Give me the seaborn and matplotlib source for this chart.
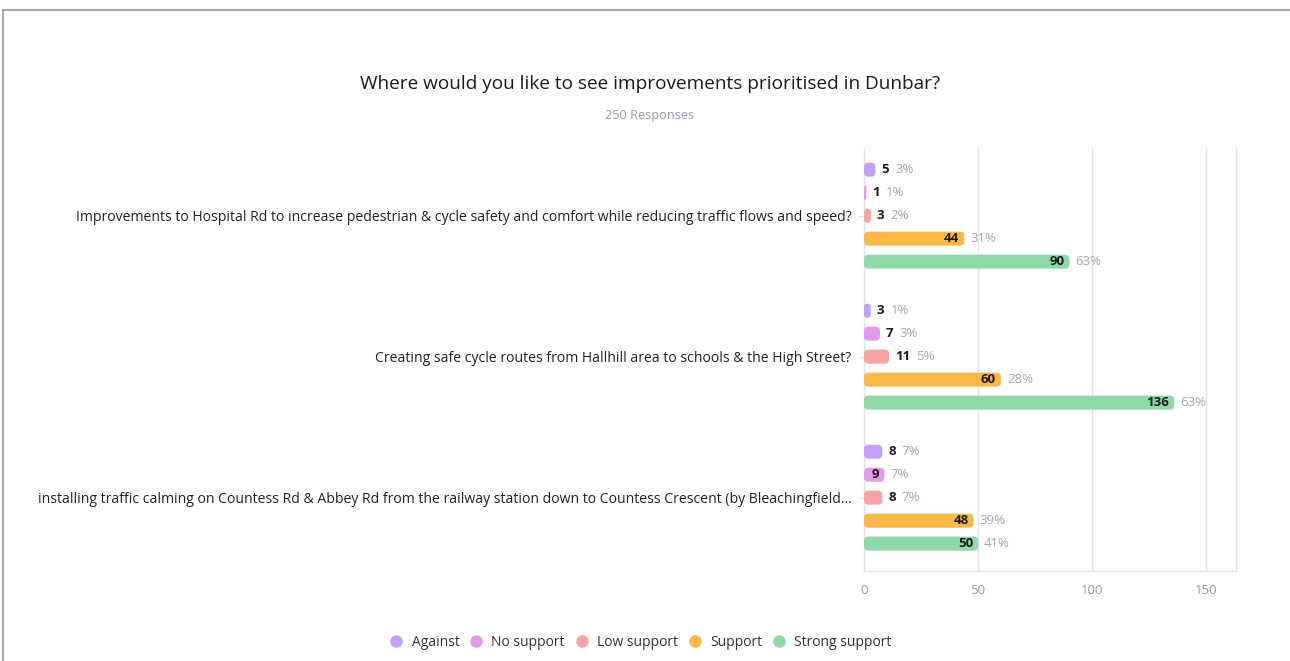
import matplotlib
matplotlib.use("Agg")
import matplotlib.pyplot as plt
import seaborn as sns
import pandas as pd
from matplotlib.patches import FancyBboxPatch
from matplotlib.lines import Line2D

# ---------------- data ----------------
categories = [
    "Improvements to Hospital Rd to increase pedestrian & cycle safety and comfort while reducing traffic flows and speed?",
    "Creating safe cycle routes from Hallhill area to schools & the High Street?",
    "installing traffic calming on Countess Rd & Abbey Rd from the railway station down to Countess Crescent (by Bleachingfield...",
]
levels = ["Against", "No support", "Low support", "Support", "Strong support"]
against = [5, 3, 8]
no_support = [1, 7, 9]
low_support = [3, 11, 8]
support = [44, 60, 48]
strong_support = [90, 136, 50]
pct_against = [3, 1, 7]
pct_no_support = [1, 3, 7]
pct_low_support = [2, 5, 7]
pct_support = [31, 28, 39]
pct_strong_support = [63, 63, 41]
colors = ["#c3a0f8", "#e19ae8", "#f8a2a3", "#fbb847", "#8fd8a8"]
x_ticks = [0, 50, 100, 150]

title = "Where would you like to see improvements prioritised in Dunbar?"
subtitle = "250 Responses"

counts = [against, no_support, low_support, support, strong_support]
pcts = [pct_against, pct_no_support, pct_low_support, pct_support, pct_strong_support]

rows = []
for lvl, vals, pv in zip(levels, counts, pcts):
    for c, v, p in zip(categories, vals, pv):
        rows.append({"question": c, "level": lvl, "count": v, "pct": p})
df = pd.DataFrame(rows)

# ---------------- figure ----------------
sns.set_theme(style="white")
plt.rcParams["font.family"] = ["Open Sans", "DejaVu Sans"]

fig = plt.figure(figsize=(12.9, 6.61), dpi=100)
fig.patch.set_facecolor("white")
ax = fig.add_axes([864 / 1290, 90 / 661, (1236 - 864) / 1290, (571 - 148) / 661])

sns.barplot(data=df, y="question", x="count", hue="level", order=categories,
            hue_order=levels, palette=colors, orient="h", width=0.815, gap=0.39,
            dodge=True, ax=ax, legend=False, saturation=1)

ax.set_xlim(0, 163)
ax.set_ylim(2.52, -0.48)
ax.set_xticks(x_ticks)
ax.set_xlabel("")
ax.set_ylabel("")

grid_col = "#e3e3ea"
ax.grid(axis="x", color=grid_col, linewidth=1)
ax.grid(axis="y", visible=False)
ax.set_axisbelow(True)
for s in ["left", "bottom", "right"]:
    ax.spines[s].set_color(grid_col)
    ax.spines[s].set_linewidth(1)
ax.spines["top"].set_visible(False)
ax.tick_params(axis="x", colors="#9a9aac", labelsize=9.5, length=0, pad=9)
ax.tick_params(axis="y", colors=grid_col, labelcolor="#222222", labelsize=10.1,
               length=4, width=1, pad=5, left=True)

# rounded bars
fig.canvas.draw()
bb = ax.get_window_extent()
px_x = bb.width / (ax.get_xlim()[1] - ax.get_xlim()[0])
px_y = bb.height / abs(ax.get_ylim()[1] - ax.get_ylim()[0])
aspect = px_x / px_y
r_px = 4.5

for ci, cont in enumerate(ax.containers):
    for bi, bar in enumerate(cont):
        x0, y0 = bar.get_x(), bar.get_y()
        w, h = bar.get_width(), bar.get_height()
        fc = bar.get_facecolor()
        bar.set_visible(False)
        r = min(r_px / px_x, w / 2, (h * px_y / 2) / px_x)
        patch = FancyBboxPatch((x0, y0), w, h,
                               boxstyle=f"round,pad=0,rounding_size={r}",
                               mutation_aspect=aspect, facecolor=fc,
                               edgecolor="none", zorder=3)
        ax.add_patch(patch)
        yc = y0 + h / 2
        val = counts[ci][bi]
        pv = pcts[ci][bi]
        if val >= 20 or val == 9:
            ax.annotate(str(val), xy=(w, yc), xytext=(-5, 0),
                        textcoords="offset pixels", ha="right", va="center",
                        fontsize=9.5, fontweight="bold", color="#1a1a1a", zorder=4)
            ax.annotate(f"{pv}%", xy=(w, yc), xytext=(6, 0),
                        textcoords="offset pixels", ha="left", va="center",
                        fontsize=9.5, color="#a5a3b8", zorder=4)
        else:
            t = ax.annotate(str(val), xy=(w, yc), xytext=(6, 0),
                            textcoords="offset pixels", ha="left", va="center",
                            fontsize=9.5, fontweight="bold", color="#1a1a1a", zorder=4)
            ax.annotate(f"{pv}%", xy=(1, 0.5), xycoords=t, xytext=(6, 0),
                        textcoords="offset pixels", ha="left", va="center",
                        fontsize=9.5, color="#a5a3b8", zorder=4)

# titles
fig.text(650 / 1290, (661 - 84) / 661, title, ha="center", va="center",
         fontsize=13.7, color="#1a1a1a")
fig.text(650 / 1290, (661 - 116) / 661, subtitle, ha="center", va="center",
         fontsize=9.2, color="#9d98b5")

# legend
handles = [Line2D([0], [0], marker="o", linestyle="", markersize=9,
                  markerfacecolor=c, markeredgecolor="none") for c in colors]
fig.legend(handles, levels, loc="center", bbox_to_anchor=(641 / 1290, (661 - 642) / 661),
           ncol=5, frameon=False, fontsize=10, handletextpad=0.7, columnspacing=0.8,
           handlelength=0.8, labelcolor="#333333")

# page border
fig.add_artist(Line2D([3 / 1290, 1], [(661 - 10) / 661] * 2, color="#a8a8a8",
                      linewidth=1.5, transform=fig.transFigure))
fig.add_artist(Line2D([3 / 1290] * 2, [0, (661 - 10) / 661], color="#a8a8a8",
                      linewidth=1.5, transform=fig.transFigure))

fig.savefig("out.png", dpi=100)
